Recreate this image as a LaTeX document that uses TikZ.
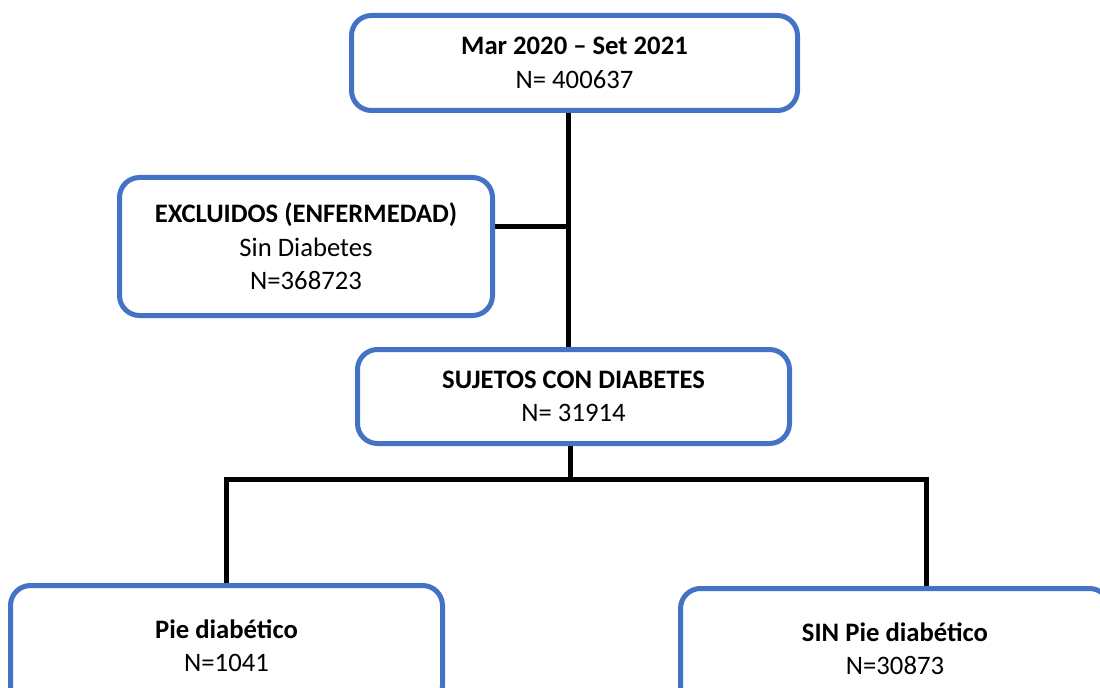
\documentclass[tikz,border=0pt]{standalone}
\usepackage{fontspec}
\setmainfont{Carlito}
\definecolor{boxblue}{HTML}{4472C4}
\tikzset{
  flowbox/.style={draw=boxblue, line width=3.75pt, rounded corners=15pt, fill=white,
    align=center, font=\fontsize{20}{25}\selectfont, inner sep=0pt},
  link/.style={draw=black, line width=3.75pt}
}
\begin{document}
\begin{tikzpicture}[x=0.75pt,y=-0.75pt]
  \useasboundingbox (0,0) rectangle (1100,688);
  \draw
    (574.5,63) node[flowbox, minimum width=334.5pt, minimum height=71.25pt] (total)
      {\textbf{Mar 2020 – Set 2021}\\N= 400637}
    (306,246.5) node[flowbox, minimum width=279.75pt, minimum height=103.5pt] (excl)
      {\textbf{EXCLUIDOS (ENFERMEDAD)}\\Sin Diabetes\\N=368723}
    (573.5,396.5) node[flowbox, minimum width=324pt, minimum height=70.5pt] (diab)
      {\textbf{SUJETOS CON DIABETES}\\N= 31914}
    (226.5,645.5) node[flowbox, minimum width=324pt, minimum height=90pt] (pie)
      {\textbf{Pie diabético}\\N=1041}
    (895,648.5) node[flowbox, minimum width=321.75pt, minimum height=90pt] (sinpie)
      {\textbf{SIN Pie diabético}\\N=30873};
  \coordinate (j1) at (568,227);
  \coordinate (j2) at (570,479);
  \coordinate (j3) at (926,479);
  \begin{scope}[link]
    \draw (total.south -| j1) -- (diab.north -| j1);
    \draw (excl.east |- j1) -- (j1);
    \draw (diab.south -| j2) -- (j2);
    \draw (pie.north) |- (j3) -- (sinpie.north -| j3);
  \end{scope}
\end{tikzpicture}
\end{document}
